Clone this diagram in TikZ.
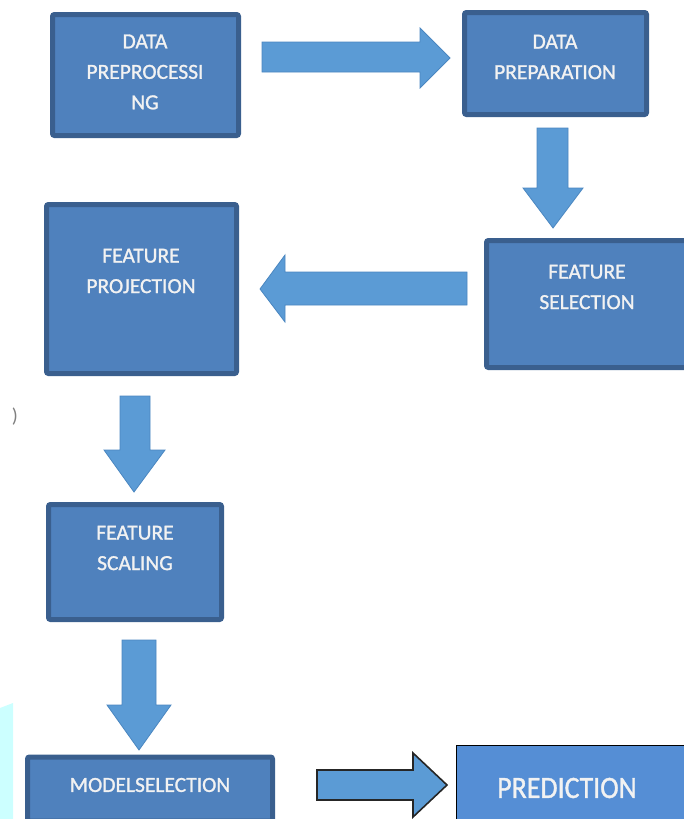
\documentclass[tikz,border=0pt]{standalone}
\usepackage{fontspec}
\setmainfont{Carlito}
\newfontfamily\boxfont[FakeBold=1.2]{Carlito}
\definecolor{boxfill}{HTML}{4F81BD}
\definecolor{boxedge}{HTML}{3A5F8E}
\definecolor{arrfill}{HTML}{5B9BD5}
\definecolor{arredge}{HTML}{4A86C0}
\definecolor{predfill}{HTML}{558ED5}
\definecolor{txt}{HTML}{F2F2F2}
\definecolor{cyanstrip}{HTML}{CCFFFF}
\tikzset{
  stepbox/.style={draw=boxedge, fill=boxfill, line width=5pt, rounded corners=2pt, inner sep=0pt},
  boxtext/.style={text=txt, font=\boxfont\fontsize{21.5}{30.5}\selectfont, align=center, inner sep=0pt},
  blockarrow/.style={fill=arrfill, draw=arredge, line width=0.8pt, line join=miter},
}
\begin{document}
\begin{tikzpicture}[x=1pt,y=-1pt]
\useasboundingbox (0,0) rectangle (684,819);
% left cyan strip
\fill[cyanstrip] (0,708) -- (13,703) -- (13,819) -- (0,819) -- cycle;
\node[text=gray, font=\fontsize{20}{20}\selectfont, inner sep=0pt] (paren) at (15,417) {)};
% boxes
\node[stepbox, minimum width=186pt, minimum height=121pt] (b1) at (145.5,75) {};
\node[stepbox, minimum width=182pt, minimum height=102pt] (b2) at (555.5,63.5) {};
\node[stepbox, minimum width=200pt, minimum height=127pt] (b3) at (586.5,304) {};
\node[stepbox, minimum width=190pt, minimum height=169pt] (b4) at (141.5,289) {};
\node[stepbox, minimum width=173pt, minimum height=115pt] (b5) at (135,562) {};
\node[stepbox, minimum width=245pt, minimum height=64pt] (b6) at (150,789) {};
\node[draw=black, fill=predfill, line width=1pt, minimum width=228pt, minimum height=76pt, inner sep=0pt] (b7) at (570,783) {};
% texts
\node[boxtext] (t1) at (145,72) {DATA\\PREPROCESSI\\NG};
\node[boxtext] (t2) at (555,57) {DATA\\PREPARATION};
\node[boxtext] (t3) at (587,287) {FEATURE\\SELECTION};
\node[boxtext] (t4) at (141,271) {FEATURE\\PROJECTION};
\node[boxtext] (t5) at (135,548) {FEATURE\\SCALING};
\node[boxtext] (t6) at (150,785) {MODELSELECTION};
\node[text=txt, font=\boxfont\fontsize{31}{31}\selectfont, inner sep=0pt, xscale=0.9] (t7) at (567,788) {PREDICTION};
% block arrows
\draw[blockarrow] (262,42) -- (420,42) -- (420,28) -- (450,58) -- (420,88) -- (420,72) -- (262,72) -- cycle;
\draw[blockarrow] (537,128) -- (568,128) -- (568,188) -- (583,188) -- (553,228) -- (523,188) -- (537,188) -- cycle;
\draw[blockarrow] (467,272) -- (285,272) -- (285,255) -- (260,289) -- (285,322) -- (285,305) -- (467,305) -- cycle;
\draw[blockarrow] (120,396) -- (150,396) -- (150,450) -- (165,450) -- (134,492) -- (104,450) -- (120,450) -- cycle;
\draw[blockarrow] (122,640) -- (156,640) -- (156,705) -- (171,705) -- (139,750) -- (107,705) -- (122,705) -- cycle;
\draw[fill=arrfill, draw=black!85, line width=1.6pt, line join=miter] (317,770) -- (413,770) -- (413,753) -- (447,785) -- (413,817) -- (413,800) -- (317,800) -- cycle;
\end{tikzpicture}
\end{document}
